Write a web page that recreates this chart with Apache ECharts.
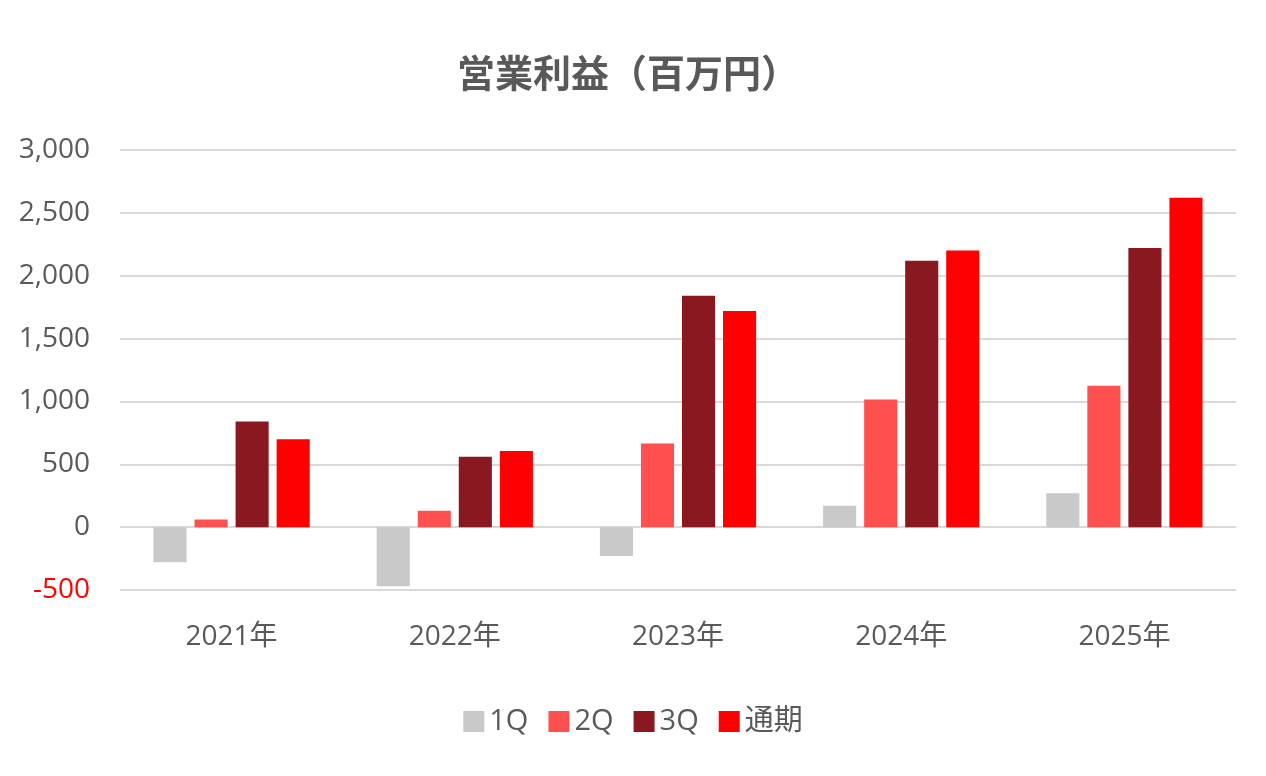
<!DOCTYPE html>
<html>
<head>
<meta charset="utf-8">
<script src="https://cdn.jsdelivr.net/npm/echarts@6/dist/echarts.min.js"></script>
<style>
html,body{margin:0;padding:0;background:#fff;}
#main{width:1266px;height:776px;}
</style>
</head>
<body>
<div id="main"></div>
<script>
var categories = ['2021年', '2022年', '2023年', '2024年', '2025年'];
var seriesNames = ['1Q', '2Q', '3Q', '通期'];
var q1 = [-280, -470, -230, 170, 270];
var q2 = [60, 130, 665, 1015, 1125];
var q3 = [840, 560, 1840, 2120, 2220];
var fullYear = [700, 605, 1720, 2200, 2620];
var yTicks = { min: -500, max: 3000, interval: 500 };

var colors = ['#C9C9C9', '#FF5050', '#891820', '#FF0000'];
var fontFamily = '"Open Sans", "Noto Sans CJK JP", sans-serif';
var textColor = '#595959';

var chart = echarts.init(document.getElementById('main'), null, { renderer: 'canvas' });
var dataSets = [q1, q2, q3, fullYear];

chart.setOption({
  animation: false,
  backgroundColor: '#ffffff',
  color: colors,
  title: {
    text: '営業利益（百万円）',
    left: 623,
    textAlign: 'center',
    top: 49,
    textStyle: {
      fontFamily: '"Noto Sans CJK JP", sans-serif',
      fontSize: 38,
      fontWeight: 'bold',
      color: textColor
    }
  },
  legend: {
    data: seriesNames,
    left: 'center',
    top: 702,
    itemWidth: 21,
    itemHeight: 21,
    itemGap: 20,
    icon: 'rect',
    textStyle: {
      fontFamily: fontFamily,
      fontSize: 29,
      color: textColor
    }
  },
  grid: {
    left: 120,
    right: 30,
    top: 150,
    bottom: 186,
    containLabel: false
  },
  xAxis: {
    type: 'category',
    data: categories,
    axisLine: { show: false, onZero: false },
    axisTick: { show: false },
    axisLabel: {
      margin: 33,
      fontFamily: fontFamily,
      fontSize: 28,
      color: textColor
    }
  },
  yAxis: {
    type: 'value',
    min: yTicks.min,
    max: yTicks.max,
    interval: yTicks.interval,
    axisLine: { show: false },
    axisTick: { show: false },
    splitLine: { lineStyle: { color: '#D9D9D9', width: 2 } },
    axisLabel: {
      margin: 30,
      fontFamily: fontFamily,
      fontSize: 28,
      color: function (value) { return value < 0 ? '#FF0000' : textColor; },
      formatter: function (v) { return echarts.format.addCommas(v); }
    }
  },
  series: seriesNames.map(function (name, i) {
    return {
      name: name,
      type: 'bar',
      data: dataSets[i],
      barGap: '24%',
      barCategoryGap: '30%',
      itemStyle: { color: colors[i] }
    };
  })
});
</script>
</body>
</html>
